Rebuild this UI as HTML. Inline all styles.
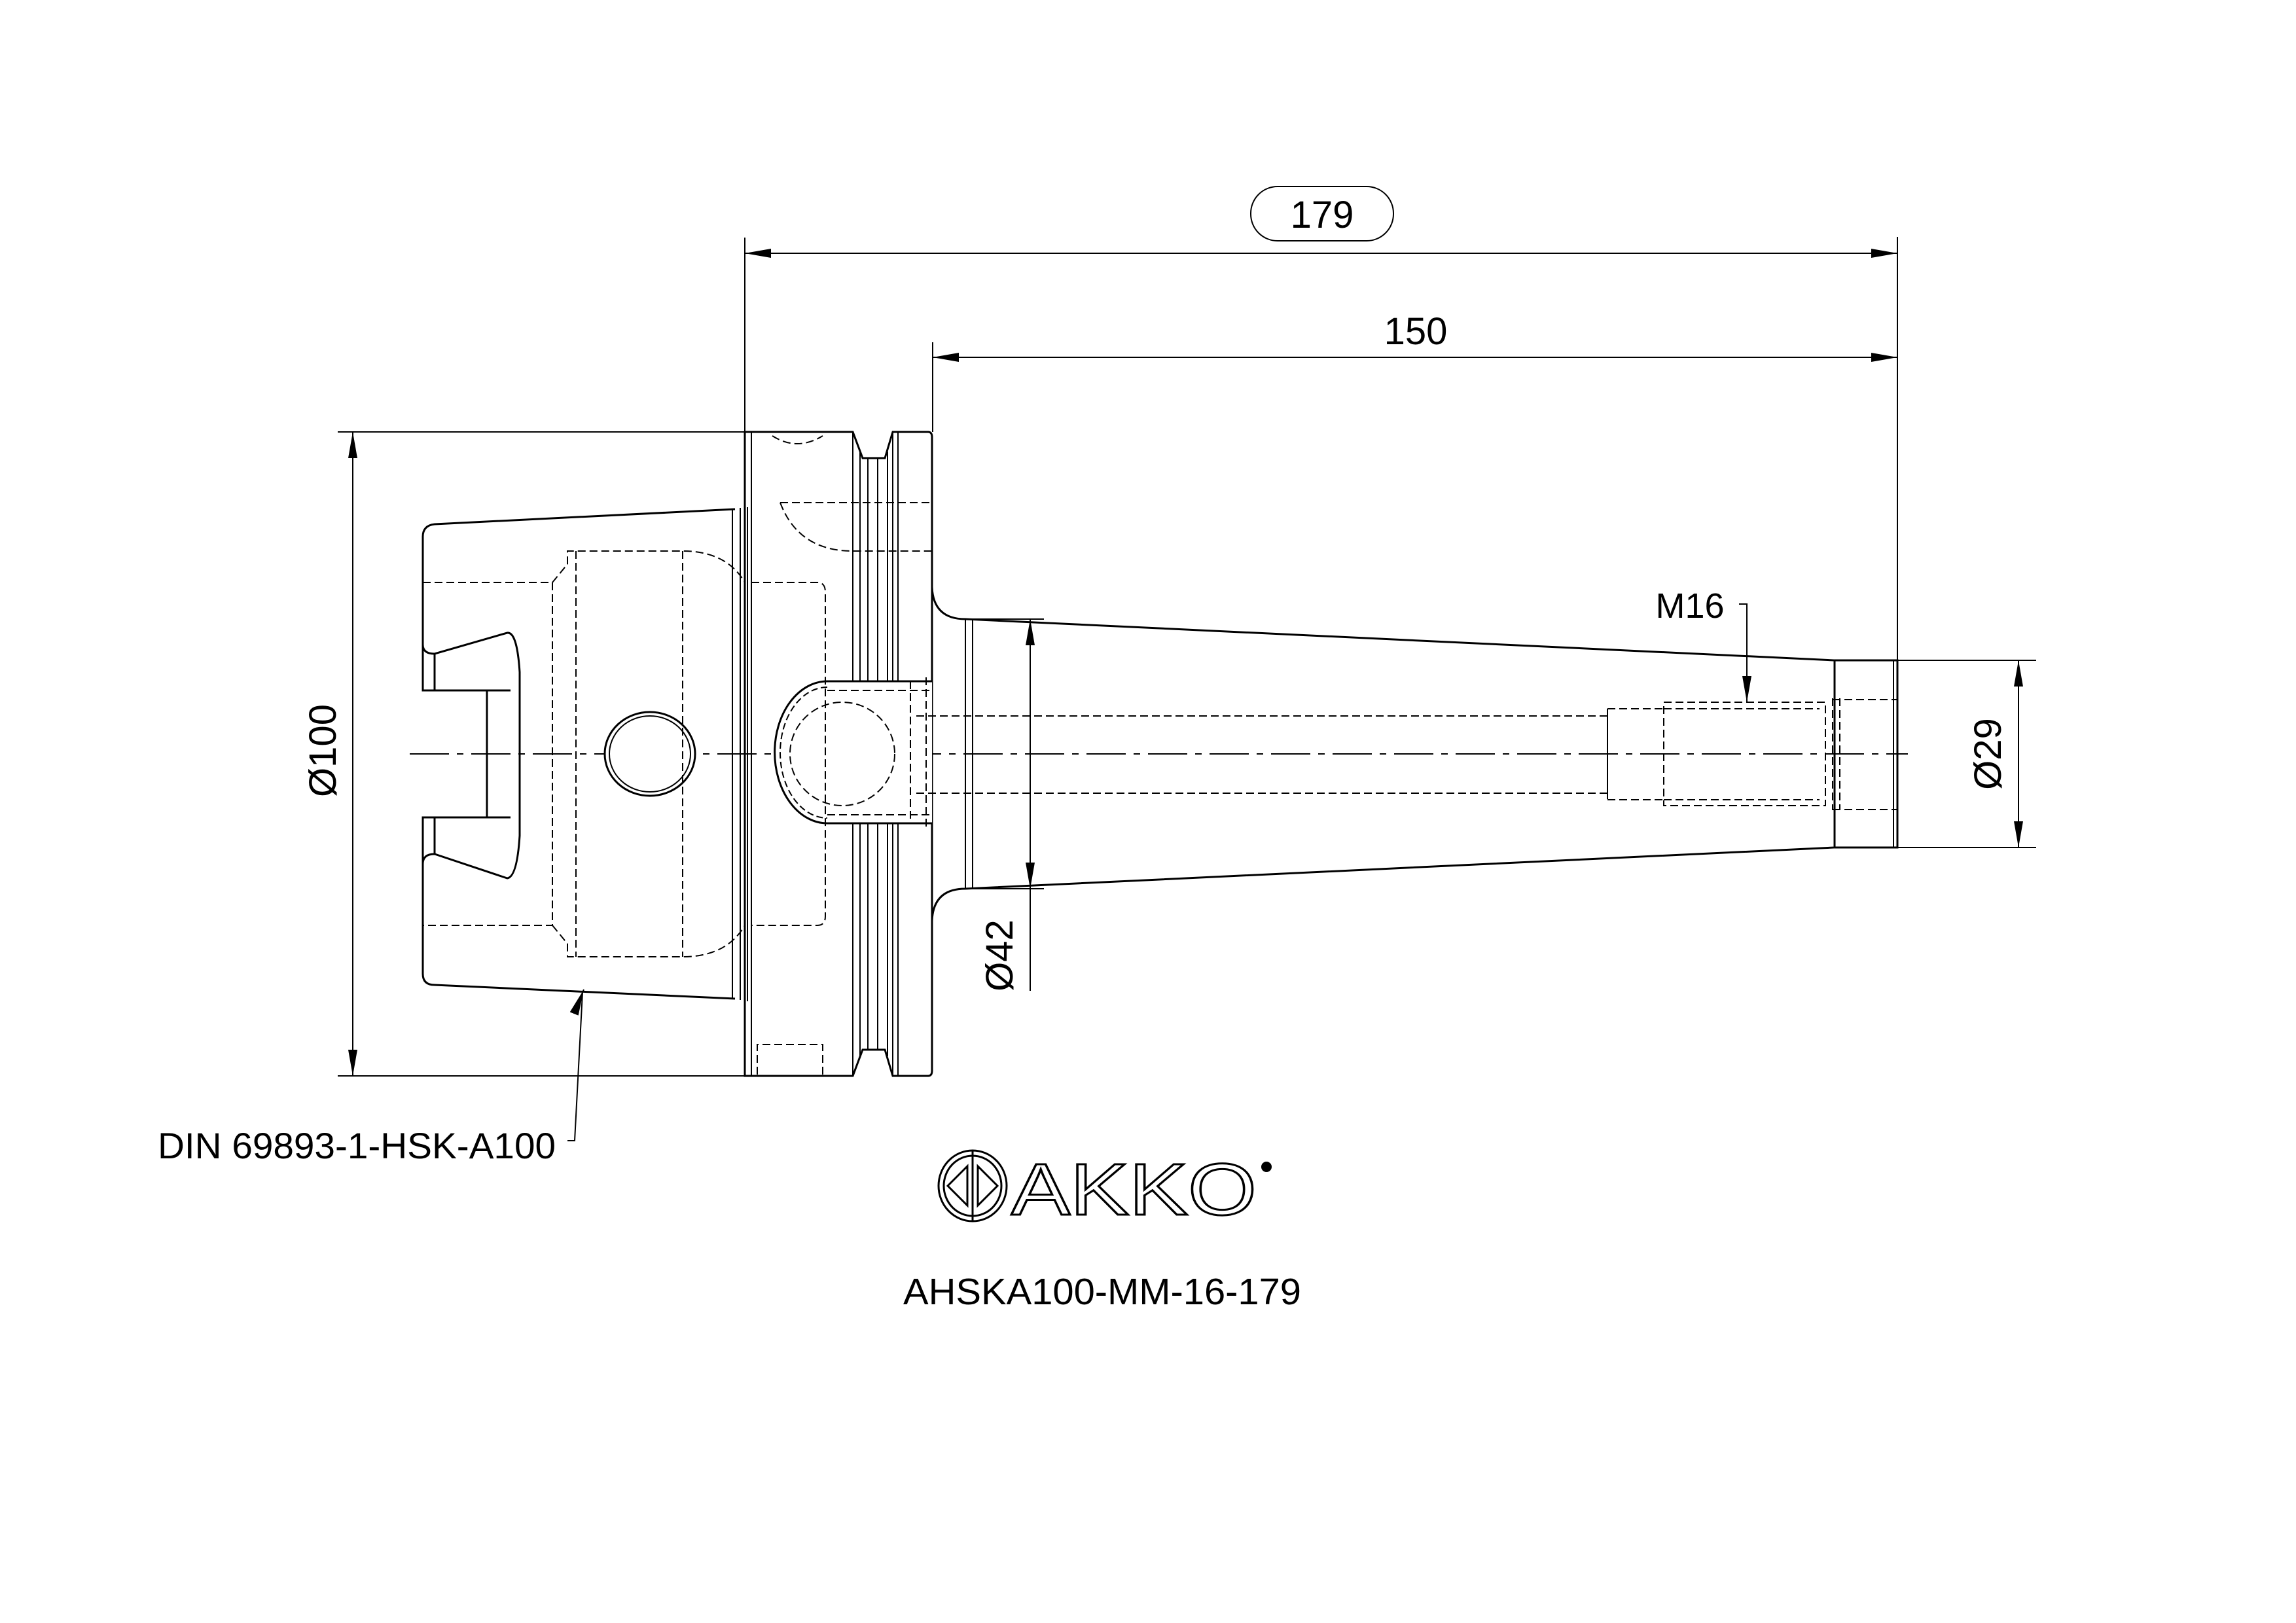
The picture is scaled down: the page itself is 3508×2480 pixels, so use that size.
<!DOCTYPE html>
<html><head><meta charset="utf-8"><style>
html,body{margin:0;padding:0;background:#fff;}
svg{display:block;}
text{font-family:"Liberation Sans",sans-serif;fill:#000;}
</style></head><body>
<svg width="3508" height="2480" viewBox="0 0 3508 2480" xmlns="http://www.w3.org/2000/svg">
<defs>
<marker id="a" viewBox="0 0 40 14" refX="40" refY="7" markerWidth="40" markerHeight="14" markerUnits="userSpaceOnUse" orient="auto-start-reverse"><path d="M0,0 L40,7 L0,14 Z" fill="#000"/></marker>
</defs>
<rect width="3508" height="2480" fill="#fff"/>
<g fill="none" stroke="#000" stroke-width="2">
<line x1="1138" y1="363" x2="1138" y2="660"/>
<line x1="2899" y1="362" x2="2899" y2="1009"/>
<line x1="1425" y1="523" x2="1425" y2="660"/>
<line x1="516" y1="660" x2="1138" y2="660"/>
<line x1="516" y1="1644" x2="1138" y2="1644"/>
<line x1="2899" y1="1009" x2="3111" y2="1009"/>
<line x1="2899" y1="1295" x2="3111" y2="1295"/>
<line x1="1475" y1="946" x2="1595" y2="946"/>
<line x1="1475" y1="1358" x2="1595" y2="1358"/>
<line x1="1138" y1="387" x2="2899" y2="387" marker-start="url(#a)" marker-end="url(#a)"/>
<line x1="1425" y1="546" x2="2899" y2="546" marker-start="url(#a)" marker-end="url(#a)"/>
<line x1="539" y1="660" x2="539" y2="1644" marker-start="url(#a)" marker-end="url(#a)"/>
<line x1="3084" y1="1009" x2="3084" y2="1295" marker-start="url(#a)" marker-end="url(#a)"/>
<line x1="1574" y1="946" x2="1574" y2="1358" marker-start="url(#a)" marker-end="url(#a)"/>
<line x1="1574" y1="1358" x2="1574" y2="1514"/>
<rect x="1911" y="285" width="218" height="83" rx="41"/>
<polyline points="890,1517 878,1743 867,1743" />
<polyline points="2657,923 2669,923 2669,1073" marker-end="url(#a)"/>
<line x1="890" y1="1517" x2="892" y2="1512" marker-end="url(#a)"/>
<line x1="626" y1="1152" x2="2915" y2="1152" stroke-dasharray="60 12 10 12"/>
</g>
<g fill="none" stroke="#000" stroke-width="3">
<path d="M1123 778 L664 801 Q646 803 646 820 L646 985 Q646 999 664 999 L775 967 Q790 965 794 1027 L794 1277 Q790 1340 775 1342 L664 1305 Q646 1305 646 1320 L646 1488 Q646 1505 664 1505 L1123 1526"/>
<path d="M646 985 L646 1055 L744 1055 L744 1249 L646 1249 L646 1320"/>
<path d="M664 999 L664 1055 M664 1249 L664 1305 M744 1055 L780 1055 M744 1249 L780 1249"/>
<line x1="1119" y1="778" x2="1119" y2="1526" stroke-width="2"/>
<line x1="1131" y1="776" x2="1131" y2="1528" stroke-width="2"/>
<line x1="1142" y1="775" x2="1142" y2="1530" stroke-width="2"/>
<path d="M1138 660 L1303 660 L1318 700 L1352 700 L1364 660 L1418 660 Q1424 660 1424 668 L1424 1636 Q1424 1644 1418 1644 L1364 1644 L1352 1604 L1318 1604 L1303 1644 L1138 1644 Z"/>
<line x1="1148" y1="660" x2="1148" y2="1644" stroke-width="2"/>
<g stroke-width="2">
<line x1="1303" y1="660" x2="1303" y2="1644"/>
<line x1="1314" y1="690" x2="1314" y2="1614"/>
<line x1="1326" y1="700" x2="1326" y2="1604"/>
<line x1="1341" y1="700" x2="1341" y2="1604"/>
<line x1="1356" y1="690" x2="1356" y2="1614"/>
<line x1="1364" y1="660" x2="1364" y2="1644"/>
<line x1="1372" y1="660" x2="1372" y2="1644"/>
</g>
<path d="M1424 1041 L1264 1041 A80 108 0 0 0 1264 1258 L1424 1258" fill="#fff"/>
<path d="M1264 1050 A72 100 0 0 0 1264 1250" stroke-width="2" stroke-dasharray="10 5"/>
<ellipse cx="993" cy="1152" rx="69" ry="64" fill="#fff"/>
<ellipse cx="993" cy="1152" rx="62" ry="58" stroke-width="2"/>
<path d="M1424 897 Q1426 946 1475 946 L2803 1009 L2803 1295 L1475 1358 Q1426 1358 1424 1407"/>
<line x1="1475" y1="946" x2="1475" y2="1358" stroke-width="2"/>
<line x1="1486" y1="947" x2="1486" y2="1357" stroke-width="2"/>
<path d="M2803 1009 L2899 1009 L2899 1295 L2803 1295"/>
<line x1="2893" y1="1009" x2="2893" y2="1295" stroke-width="2"/>
</g>
<g fill="none" stroke="#000" stroke-width="2" stroke-dasharray="12 6">
<path d="M646 890 L844 890 L844 1414 L646 1414"/>
<path d="M844 890 L867 862 L867 842 L1043 842 Q1110 842 1138 890"/>
<path d="M844 1414 L867 1442 L867 1462 L1043 1462 Q1110 1462 1138 1414"/>
<line x1="1043" y1="842" x2="1043" y2="1462"/>
<line x1="880" y1="842" x2="880" y2="1462"/>
<path d="M1148 890 L1249 890 Q1261 890 1261 905 L1261 1400 Q1261 1414 1249 1414 L1148 1414"/>
<path d="M1192 768 Q1220 842 1303 842 L1424 842 M1192 768 L1424 768"/>
<path d="M1157 1642 L1157 1596 L1257 1596 L1257 1642"/>
<path d="M1180 666 Q1218 690 1257 666"/>
<ellipse cx="1287" cy="1152" rx="80" ry="79"/>
<line x1="1391" y1="1041" x2="1391" y2="1258"/>
<line x1="1415" y1="1035" x2="1415" y2="1265"/>
<line x1="1264" y1="1055" x2="1424" y2="1055"/>
<line x1="1264" y1="1245" x2="1424" y2="1245"/>
<line x1="1400" y1="1094" x2="2456" y2="1094"/>
<line x1="1400" y1="1212" x2="2456" y2="1212"/>
<path d="M2456 1094 L2456 1212 M2456 1083 L2542 1083 M2456 1222 L2542 1222 M2456 1083 L2456 1222"/>
<path d="M2542 1073 L2789 1073 L2789 1231 L2542 1231 Z"/>
<line x1="2542" y1="1083" x2="2780" y2="1083"/>
<line x1="2542" y1="1222" x2="2780" y2="1222"/>
<path d="M2800 1067 L2800 1238 M2811 1067 L2811 1238 M2800 1069 L2899 1069 M2800 1237 L2899 1237"/>
</g>
<g font-size="58">
<text x="2020" y="348" text-anchor="middle">179</text>
<text x="2163" y="526" text-anchor="middle">150</text>
<text x="2582" y="944" text-anchor="middle" font-size="54">M16</text>
<text transform="translate(513,1147) rotate(-90)" text-anchor="middle">Ø100</text>
<text transform="translate(1547,1460) rotate(-90)" text-anchor="middle">Ø42</text>
<text transform="translate(3057,1152) rotate(-90)" text-anchor="middle">Ø29</text>
<text x="241" y="1770" font-size="56" textLength="608" lengthAdjust="spacingAndGlyphs">DIN 69893-1-HSK-A100</text>
<text x="1380" y="1993" font-size="57" textLength="608" lengthAdjust="spacingAndGlyphs">AHSKA100-MM-16-179</text>
</g>
<g fill="none" stroke="#000" stroke-width="3">
<ellipse cx="1486" cy="1812" rx="52" ry="54"/>
<ellipse cx="1486" cy="1812" rx="44" ry="46"/>
<path d="M1448 1812 L1478 1782 L1478 1842 Z M1524 1812 L1494 1782 L1494 1842 Z"/>
<line x1="1486" y1="1758" x2="1486" y2="1866"/>
</g>
<text x="1545" y="1856" font-size="112" stroke="#000" stroke-width="3" style="fill:#fff" textLength="375" lengthAdjust="spacingAndGlyphs">AKKO</text>
<circle cx="1935" cy="1783" r="8" fill="#000"/>
</svg>
</body></html>
